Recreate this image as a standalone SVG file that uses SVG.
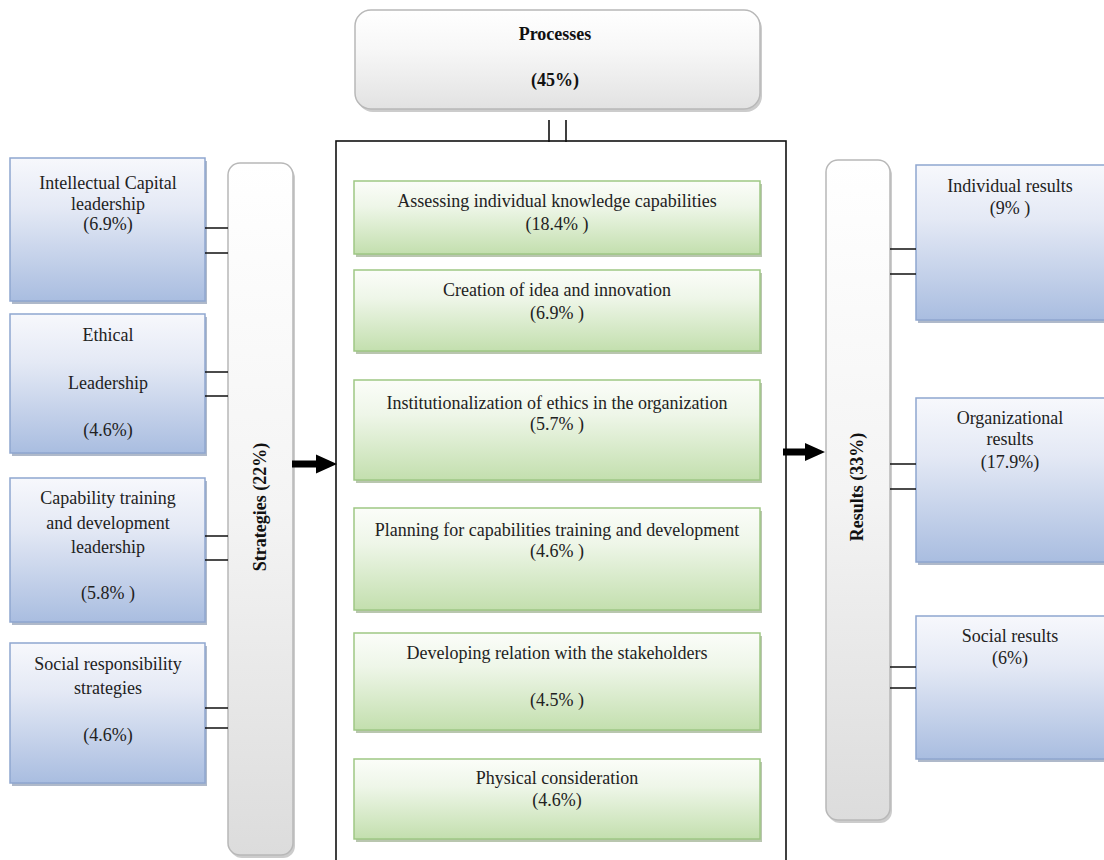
<svg xmlns="http://www.w3.org/2000/svg" width="1104" height="860" viewBox="0 0 1104 860">
<defs>
<linearGradient id="blue" x1="0" y1="0" x2="0" y2="1">
<stop offset="0" stop-color="#f7f8fc"/><stop offset="0.35" stop-color="#e4e9f5"/><stop offset="1" stop-color="#a9bde0"/>
</linearGradient>
<linearGradient id="green" x1="0" y1="0" x2="0" y2="1">
<stop offset="0" stop-color="#fbfdf9"/><stop offset="0.35" stop-color="#eef6e8"/><stop offset="1" stop-color="#c3dfae"/>
</linearGradient>
<linearGradient id="gray" x1="0" y1="0" x2="0" y2="1">
<stop offset="0" stop-color="#ffffff"/><stop offset="0.5" stop-color="#f4f4f4"/><stop offset="1" stop-color="#dcdcdc"/>
</linearGradient>
<linearGradient id="grayh" x1="0" y1="0" x2="0" y2="1">
<stop offset="0" stop-color="#ffffff"/><stop offset="0.4" stop-color="#f7f7f7"/><stop offset="1" stop-color="#e2e2e2"/>
</linearGradient>
</defs>
<style>
text{font-family:"Liberation Serif","Times New Roman",serif;font-size:18px;fill:#222;text-anchor:middle}
.b{font-weight:bold;fill:#111}
.blue{fill:url(#blue);stroke:#8fa6cf;stroke-width:1.5}
.green{fill:url(#green);stroke:#9ec784;stroke-width:1.5}
.sh{fill:#7a8aa6;opacity:0.6}
.shg{fill:#8aa07a;opacity:0.6}
.pill{fill:url(#gray);stroke:#b8b8b8;stroke-width:1.5}
.ln{stroke:#111;stroke-width:1.6;fill:none}
.arrow{fill:#000}
</style>
<rect width="1104" height="860" fill="#fff"/>

<g id="processes">
<rect x="357" y="13" width="405" height="99" rx="16" fill="#9a9a9a" opacity="0.5"/>
<rect x="355" y="10" width="405" height="99" rx="16" class="pill" style="fill:url(#grayh)"/>
<text x="555" y="40" class="b">Processes</text>
<text x="555" y="86" class="b">(45%)</text>
</g>

<g id="process-frame">
<rect x="336" y="141" width="450" height="725" fill="none" stroke="#111" stroke-width="1.6"/>
</g>

<g id="strategies">
<rect x="230" y="166" width="65" height="692" rx="12" fill="#999" opacity="0.5"/>
<rect x="228" y="163" width="65" height="692" rx="12" class="pill"/>
<text class="b" transform="translate(266,507) rotate(-90)">Strategies (22%)</text>
</g>

<g id="results">
<rect x="828" y="163" width="64" height="660" rx="12" fill="#999" opacity="0.5"/>
<rect x="826" y="160" width="64" height="660" rx="12" class="pill"/>
<text class="b" transform="translate(863,487) rotate(-90)">Results (33%)</text>
</g>

<g id="s1">
<rect x="12" y="161" width="195" height="143" class="sh"/>
<rect x="10" y="158" width="195" height="143" class="blue"/>
<text x="108" y="189">Intellectual Capital</text>
<text x="108" y="210">leadership</text>
<text x="108" y="230">(6.9%)</text>
</g>
<g id="s2">
<rect x="12" y="317" width="195" height="139" class="sh"/>
<rect x="10" y="314" width="195" height="139" class="blue"/>
<text x="108" y="341">Ethical</text>
<text x="108" y="389">Leadership</text>
<text x="108" y="436">(4.6%)</text>
</g>
<g id="s3">
<rect x="12" y="481" width="195" height="144" class="sh"/>
<rect x="10" y="478" width="195" height="144" class="blue"/>
<text x="108" y="504">Capability training</text>
<text x="108" y="529">and development</text>
<text x="108" y="553">leadership</text>
<text x="108" y="599">(5.8% )</text>
</g>
<g id="s4">
<rect x="12" y="646" width="195" height="140" class="sh"/>
<rect x="10" y="643" width="195" height="140" class="blue"/>
<text x="108" y="670">Social responsibility</text>
<text x="108" y="694">strategies</text>
<text x="108" y="741">(4.6%)</text>
</g>

<g id="p1">
<rect x="356" y="184" width="406" height="73" class="shg"/>
<rect x="354" y="181" width="406" height="73" class="green"/>
<text x="557" y="207">Assessing individual knowledge capabilities</text>
<text x="557" y="230">(18.4% )</text>
</g>
<g id="p2">
<rect x="356" y="273" width="406" height="81" class="shg"/>
<rect x="354" y="270" width="406" height="81" class="green"/>
<text x="557" y="296">Creation of idea and innovation</text>
<text x="557" y="319">(6.9% )</text>
</g>
<g id="p3">
<rect x="356" y="383" width="406" height="100" class="shg"/>
<rect x="354" y="380" width="406" height="100" class="green"/>
<text x="557" y="409">Institutionalization of ethics in the organization</text>
<text x="557" y="430">(5.7% )</text>
</g>
<g id="p4">
<rect x="356" y="511" width="406" height="102" class="shg"/>
<rect x="354" y="508" width="406" height="102" class="green"/>
<text x="557" y="536">Planning for capabilities training and development</text>
<text x="557" y="557">(4.6% )</text>
</g>
<g id="p5">
<rect x="356" y="636" width="406" height="97" class="shg"/>
<rect x="354" y="633" width="406" height="97" class="green"/>
<text x="557" y="659">Developing relation with the stakeholders</text>
<text x="557" y="706">(4.5% )</text>
</g>
<g id="p6">
<rect x="356" y="762" width="406" height="80" class="shg"/>
<rect x="354" y="759" width="406" height="80" class="green"/>
<text x="557" y="784">Physical consideration</text>
<text x="557" y="806">(4.6%)</text>
</g>

<g id="r1">
<rect x="918" y="168" width="190" height="155" class="sh"/>
<rect x="916" y="165" width="190" height="155" class="blue"/>
<text x="1010" y="192">Individual results</text>
<text x="1010" y="214">(9% )</text>
</g>
<g id="r2">
<rect x="918" y="401" width="190" height="164" class="sh"/>
<rect x="916" y="398" width="190" height="164" class="blue"/>
<text x="1010" y="424">Organizational</text>
<text x="1010" y="445">results</text>
<text x="1010" y="468">(17.9%)</text>
</g>
<g id="r3">
<rect x="918" y="619" width="190" height="143" class="sh"/>
<rect x="916" y="616" width="190" height="143" class="blue"/>
<text x="1010" y="642">Social results</text>
<text x="1010" y="664">(6%)</text>
</g>

<g id="connectors">
<path class="ln" d="M549,120 V142 M566,120 V142"/>
<path class="ln" d="M205,228 H228 M205,253 H228 M205,372 H228 M205,396 H228 M205,536 H228 M205,560 H228 M205,708 H228 M205,728 H228"/>
<path class="ln" d="M890,249 H916 M890,274 H916 M890,464 H916 M890,489 H916 M890,667 H916 M890,688 H916"/>
<path class="arrow" d="M292,460.5 H316 V454.5 L337,464 L316,473.5 V467.5 H292 Z"/>
<path class="arrow" d="M783,448.5 H805 V443 L825,452 L805,461 V455.5 H783 Z"/>
</g>
</svg>
